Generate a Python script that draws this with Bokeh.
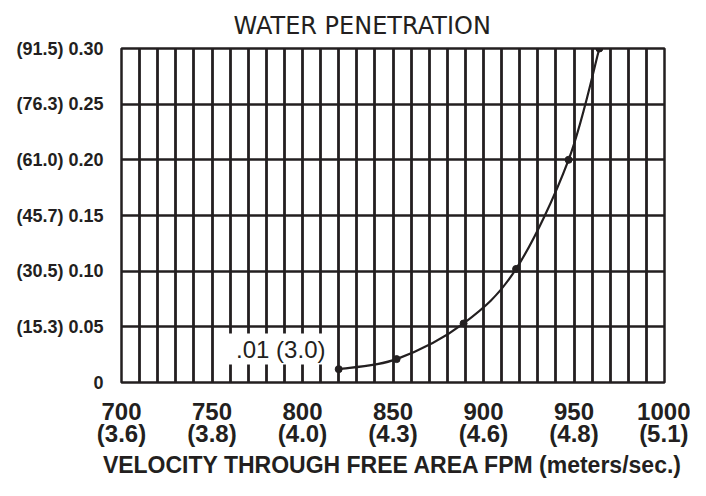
from bokeh.plotting import figure
from bokeh.models import FixedTicker, Label, Title, Range1d
from bokeh.embed import file_html
from bokeh.resources import INLINE

# ---- data ----
fpm_ticks = [700, 750, 800, 850, 900, 950, 1000]
ms_labels = ["(3.6)", "(3.8)", "(4.0)", "(4.3)", "(4.6)", "(4.8)", "(5.1)"]
depth_ticks = [0, 0.05, 0.10, 0.15, 0.20, 0.25, 0.30]
depth_labels = ["0", "(15.3) 0.05", "(30.5) 0.10", "(45.7) 0.15",
                "(61.0) 0.20", "(76.3) 0.25", "(91.5) 0.30"]
grid_fpm = list(range(700, 1001, 10))
velocity = [820, 852, 889, 918, 947, 964]
penetration = [0.012, 0.021, 0.053, 0.102, 0.200, 0.300]
note_text = ".01 (3.0)"
note_x = 788
note_y = 0.03
title_text = "WATER PENETRATION"
x_title = "VELOCITY THROUGH FREE AREA FPM (meters/sec.)"

INK = "#231f20"
BOLD_FONT = "Liberation Sans"

p = figure(width=690, height=480, output_backend="svg", toolbar_location=None,
           x_range=Range1d(700, 1000), y_range=Range1d(0, 0.30),
           min_border_left=121, min_border_right=26,
           min_border_top=48, min_border_bottom=98)

p.title = Title(text=title_text, align="left", offset=112,
                text_font="DejaVu Sans ExtraLight, DejaVu Sans",
                text_font_style="normal", text_font_size="24px",
                text_color=INK, standoff=18)

p.outline_line_color = INK
p.outline_line_width = 2.5
p.outline_line_alpha = 1.0

# grid
p.xgrid.ticker = FixedTicker(ticks=grid_fpm)
p.xgrid.grid_line_color = INK
p.xgrid.grid_line_width = 2.8
p.xgrid.grid_line_alpha = 1.0
p.ygrid.ticker = FixedTicker(ticks=depth_ticks)
p.ygrid.grid_line_color = INK
p.ygrid.grid_line_width = 2.5
p.ygrid.grid_line_alpha = 1.0

# x axis
xa = p.xaxis[0]
xa.ticker = FixedTicker(ticks=fpm_ticks)
xa.major_label_overrides = {t: f"{t}\n{m}" for t, m in zip(fpm_ticks, ms_labels)}
xa.axis_line_color = None
xa.major_tick_line_color = None
xa.minor_tick_line_color = None
xa.major_label_standoff = 9
xa.major_label_text_font = BOLD_FONT
xa.major_label_text_font_style = "bold"
xa.major_label_text_font_size = "24px"
xa.major_label_text_line_height = 0.83
xa.major_label_text_color = INK
xa.axis_label = x_title
xa.axis_label_text_font = BOLD_FONT
xa.axis_label_text_font_style = "bold"
xa.axis_label_text_font_size = "23px"
xa.axis_label_text_color = INK
xa.axis_label_standoff = 2

# y axis
ya = p.yaxis[0]
ya.ticker = FixedTicker(ticks=depth_ticks)
ya.major_label_overrides = {t: l for t, l in zip(depth_ticks, depth_labels)}
ya.axis_line_color = None
ya.major_tick_line_color = None
ya.minor_tick_line_color = None
ya.major_label_standoff = 12
ya.major_label_text_font = BOLD_FONT
ya.major_label_text_font_style = "bold"
ya.major_label_text_font_size = "18px"
ya.major_label_text_color = INK

# smooth curve through the points (Catmull-Rom as cubic Bezier segments)
n = len(velocity)
x0, y0, x1, y1, cx0, cy0, cx1, cy1 = [], [], [], [], [], [], [], []
for i in range(n - 1):
    ip = max(i - 1, 0)
    i2 = min(i + 2, n - 1)
    x0.append(velocity[i]); y0.append(penetration[i])
    x1.append(velocity[i + 1]); y1.append(penetration[i + 1])
    cx0.append(velocity[i] + (velocity[i + 1] - velocity[ip]) / 6)
    cy0.append(penetration[i] + (penetration[i + 1] - penetration[ip]) / 6)
    cx1.append(velocity[i + 1] - (velocity[i2] - velocity[i]) / 6)
    cy1.append(penetration[i + 1] - (penetration[i2] - penetration[i]) / 6)

p.bezier(x0=x0, y0=y0, x1=x1, y1=y1, cx0=cx0, cy0=cy0, cx1=cx1, cy1=cy1,
         line_color=INK, line_width=2.2)
p.scatter(velocity, penetration, size=7, color=INK)

note = Label(x=note_x, y=note_y, text=note_text, text_align="center",
             text_baseline="middle", text_font=BOLD_FONT,
             text_font_size="24px", text_color=INK,
             background_fill_color="white", background_fill_alpha=1.0,
             padding=(10, 2))
p.add_layout(note)

open("out.html", "w").write(file_html(p, INLINE))
